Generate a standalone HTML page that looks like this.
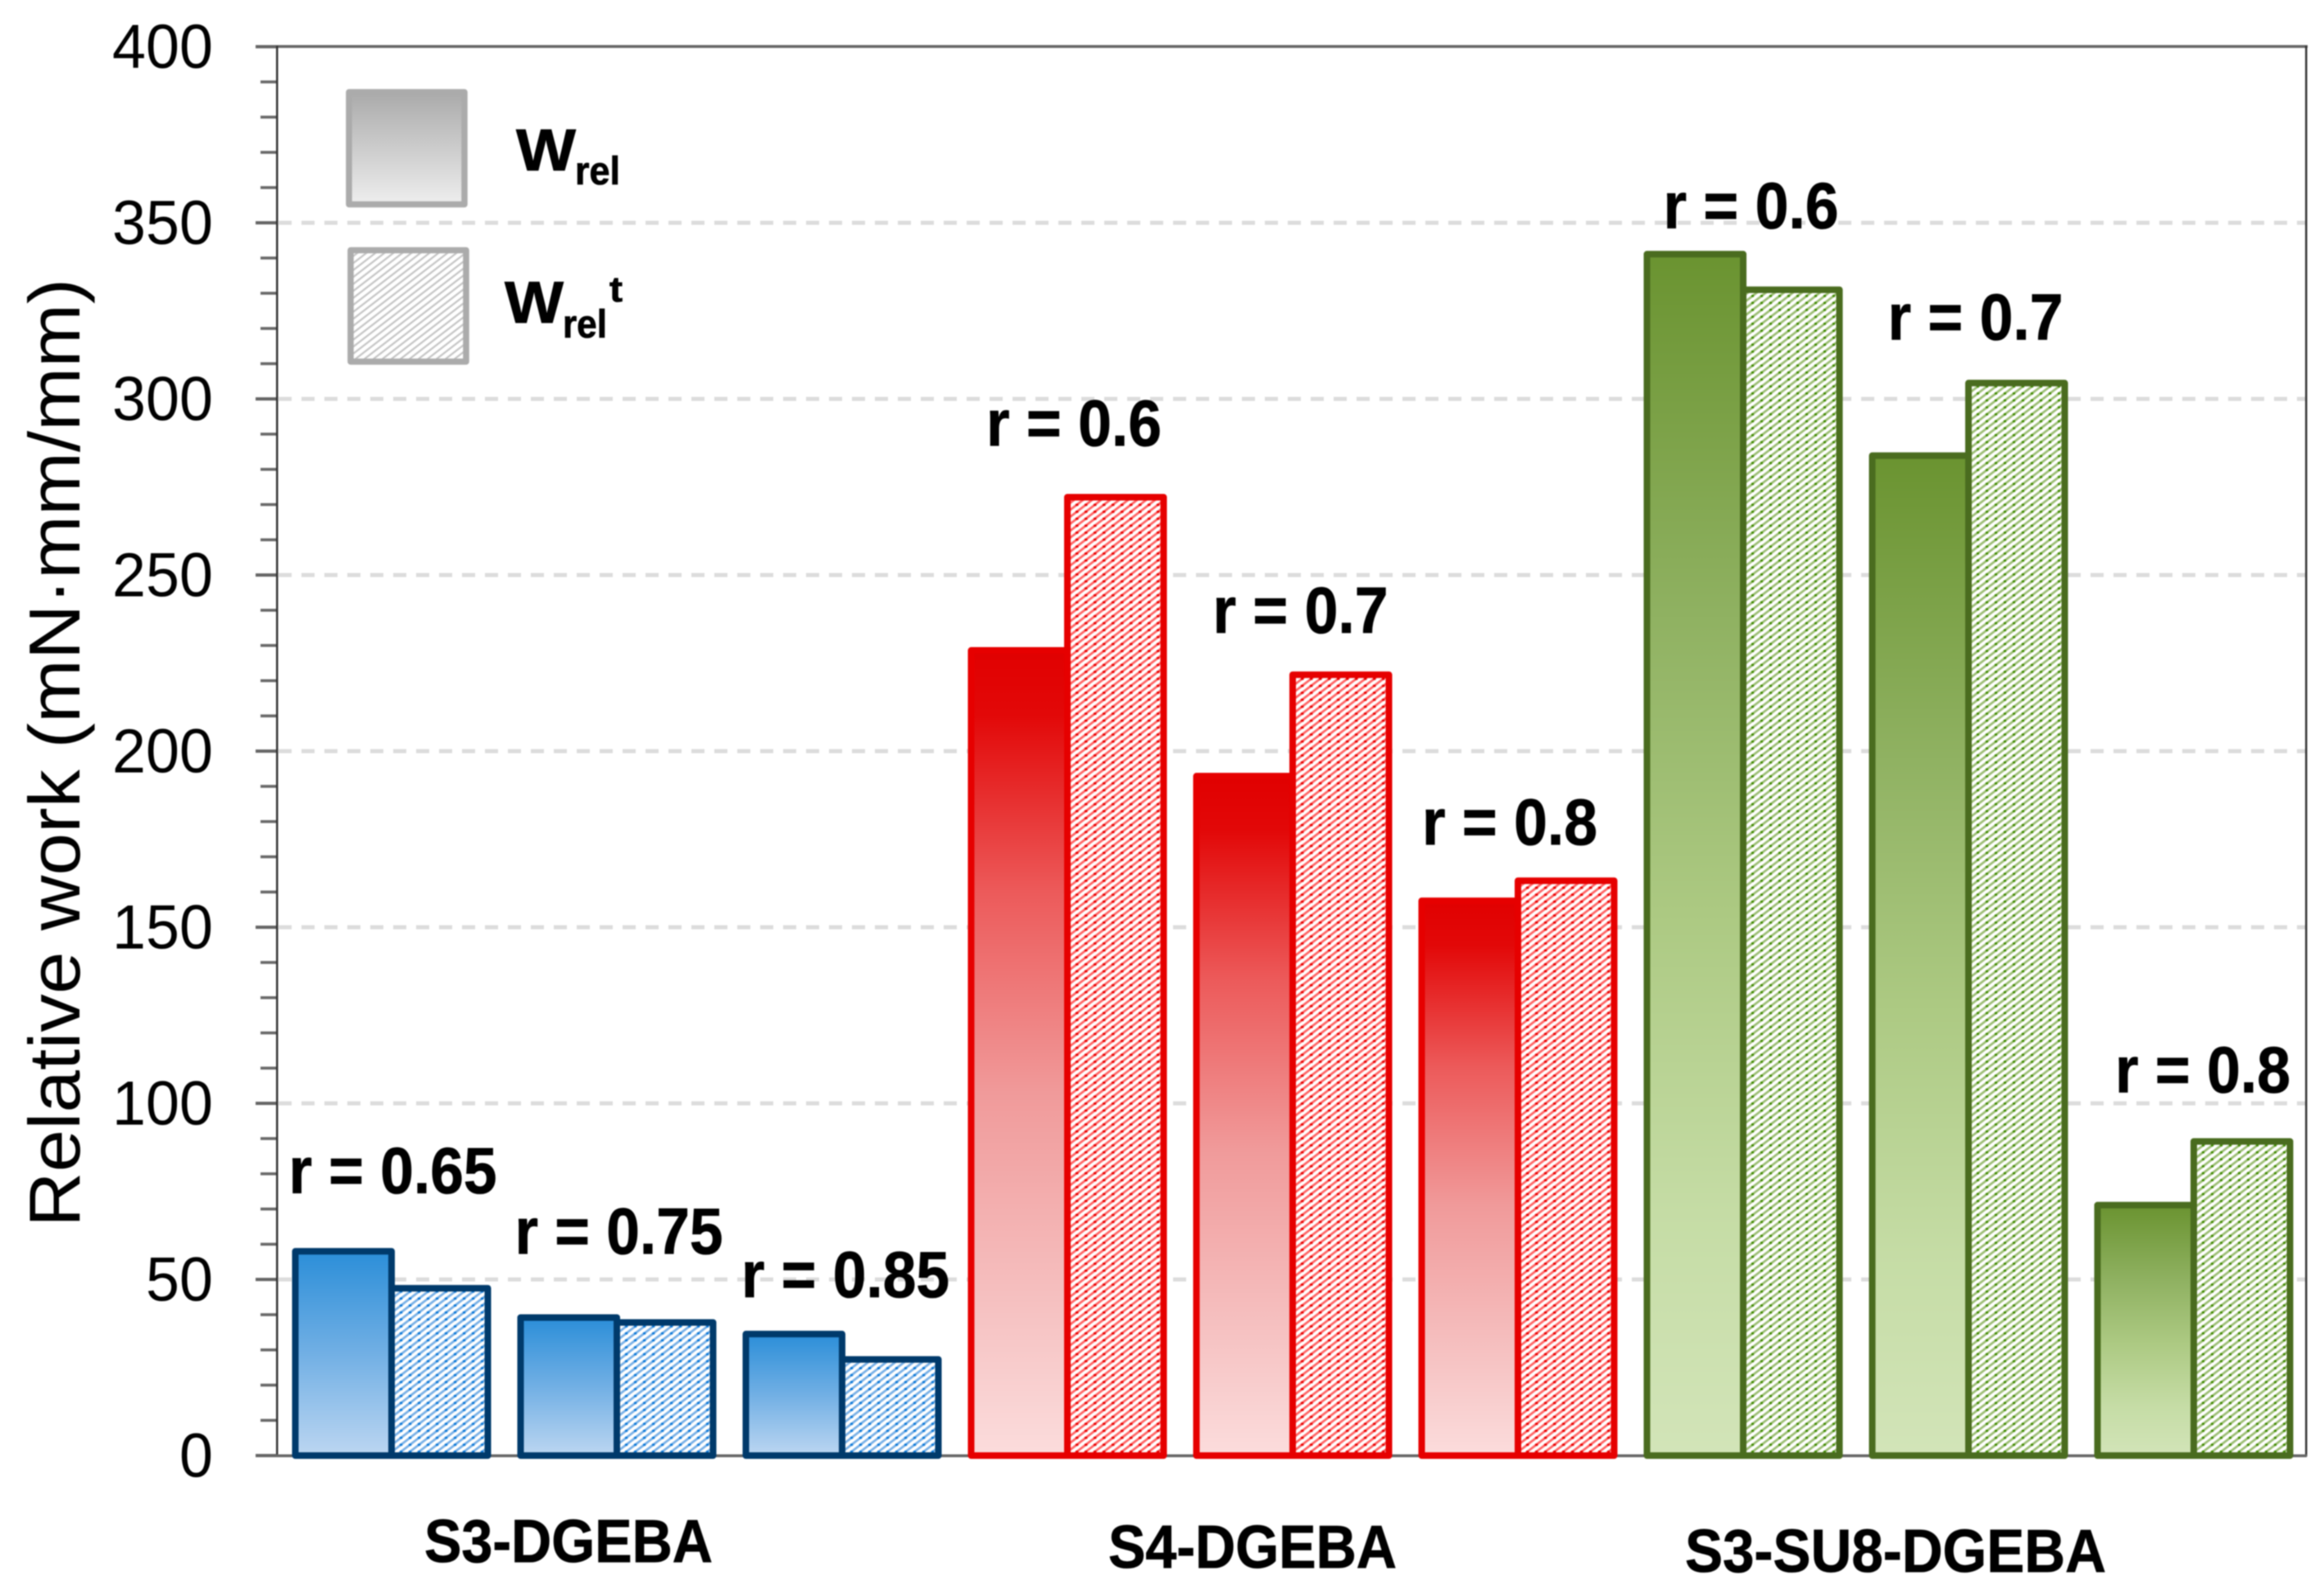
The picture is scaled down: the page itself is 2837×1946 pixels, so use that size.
<!DOCTYPE html>
<html lang="en">
<head>
<meta charset="utf-8">
<title>Relative work chart</title>
<style>
  html, body { margin: 0; padding: 0; background: #fff; }
  svg { display: block; filter: blur(0.7px); }
  text { font-family: "Liberation Sans", sans-serif; fill: #000; }
  .b { font-weight: 700; stroke: #000; stroke-width: 0.8px; }
</style>
</head>
<body>
<svg id="chart" xmlns="http://www.w3.org/2000/svg" width="2837" height="1946" viewBox="0 0 2837 1946">
  <defs>
    <linearGradient id="grad-blue" x1="0" y1="0" x2="0" y2="1">
      <stop offset="0" stop-color="#2b8ed8"/><stop offset="0.5" stop-color="#71afe4"/><stop offset="1" stop-color="#bcd6f1"/>
    </linearGradient>
    <linearGradient id="grad-red" x1="0" y1="0" x2="0" y2="1">
      <stop offset="0" stop-color="#e00000"/><stop offset="0.08" stop-color="#e20808"/><stop offset="0.3" stop-color="#ec5a5a"/><stop offset="0.55" stop-color="#f09a9a"/><stop offset="0.8" stop-color="#f5bfbf"/><stop offset="1" stop-color="#fbdcdc"/>
    </linearGradient>
    <linearGradient id="grad-green" x1="0" y1="0" x2="0" y2="1">
      <stop offset="0" stop-color="#6a9330"/><stop offset="0.3" stop-color="#8fb161"/><stop offset="0.55" stop-color="#acc982"/><stop offset="0.8" stop-color="#c5dca5"/><stop offset="1" stop-color="#d2e4b8"/>
    </linearGradient>
    <linearGradient id="grad-gray" x1="0" y1="0" x2="0" y2="1">
      <stop offset="0" stop-color="#aaaaaa"/><stop offset="1" stop-color="#eeeeee"/>
    </linearGradient>
    <pattern id="hatch-blue" patternUnits="userSpaceOnUse" width="11" height="8.5">
      <rect width="11" height="8.5" fill="#fff"/>
      <path d="M-2.2,10.2 L13.2,-1.7 M-2.2,1.7 L2.2,-1.7 M8.8,10.2 L13.2,6.8" stroke="#78b0e6" stroke-width="2.8" fill="none"/>
      <rect x="4" y="3" width="3.2" height="2.6" fill="#0a78d8"/>
    </pattern>
    <pattern id="hatch-red" patternUnits="userSpaceOnUse" width="11" height="8.5">
      <rect width="11" height="8.5" fill="#fff"/>
      <path d="M-2.2,10.2 L13.2,-1.7 M-2.2,1.7 L2.2,-1.7 M8.8,10.2 L13.2,6.8" stroke="#ff6464" stroke-width="2.8" fill="none"/>
      <rect x="4" y="3" width="3.4" height="2.6" fill="#e60000"/>
    </pattern>
    <pattern id="hatch-green" patternUnits="userSpaceOnUse" width="11" height="8.5">
      <rect width="11" height="8.5" fill="#fff"/>
      <path d="M-2.2,10.2 L13.2,-1.7 M-2.2,1.7 L2.2,-1.7 M8.8,10.2 L13.2,6.8" stroke="#9cbe74" stroke-width="2.8" fill="none"/>
      <rect x="4" y="3" width="3" height="2.6" fill="#3f8a00"/>
    </pattern>
    <pattern id="hatch-gray" patternUnits="userSpaceOnUse" width="11" height="8.5">
      <rect width="11" height="8.5" fill="#fff"/>
      <path d="M-2.2,10.2 L13.2,-1.7 M-2.2,1.7 L2.2,-1.7 M8.8,10.2 L13.2,6.8" stroke="#c4c4c4" stroke-width="2.2" fill="none"/>
    </pattern>
  </defs>

  <g id="grid"></g>
  <g id="y-axis"></g>
  <rect x="312" y="55" width="2505" height="3.5" fill="#666"/>
  <rect x="337" y="56" width="2.5" height="1722" fill="#333"/>
  <rect x="2814" y="56" width="2.5" height="1722" fill="#333"/>
  <rect x="312" y="1775.5" width="2504" height="3.5" fill="#666"/>

  <g id="bars"></g>
  <g id="r-labels"></g>

  <text transform="translate(97,919) rotate(-90)" text-anchor="middle" font-size="88" textLength="1158" lengthAdjust="spacingAndGlyphs">Relative work (mN·mm/mm)</text>

  <text class="b" x="518" y="1907" font-size="74" textLength="352" lengthAdjust="spacingAndGlyphs">S3-DGEBA</text>
  <text class="b" x="1353" y="1914" font-size="74" textLength="352" lengthAdjust="spacingAndGlyphs">S4-DGEBA</text>
  <text class="b" x="2057" y="1919" font-size="74" textLength="514" lengthAdjust="spacingAndGlyphs">S3-SU8-DGEBA</text>

  <g>
    <rect x="426" y="112.5" width="141" height="137" fill="url(#grad-gray)" stroke="#ababab" stroke-width="7.5" stroke-linejoin="round"/>
    <text class="b" x="630" y="208" font-size="72" textLength="73" lengthAdjust="spacingAndGlyphs">W</text>
    <text class="b" x="702" y="225" font-size="48" textLength="55" lengthAdjust="spacingAndGlyphs">rel</text>
    <rect x="428" y="305.5" width="141" height="136" fill="url(#hatch-gray)" stroke="#ababab" stroke-width="7.5" stroke-linejoin="round"/>
    <text class="b" x="616" y="394" font-size="72" textLength="72" lengthAdjust="spacingAndGlyphs">W</text>
    <text class="b" x="687" y="412" font-size="48" textLength="54" lengthAdjust="spacingAndGlyphs">rel</text>
    <text class="b" x="744" y="368" font-size="44" textLength="16" lengthAdjust="spacingAndGlyphs">t</text>
  </g>
</svg>

<script>
const categories = ['S3-DGEBA r=0.65', 'S3-DGEBA r=0.75', 'S3-DGEBA r=0.85', 'S4-DGEBA r=0.6', 'S4-DGEBA r=0.7', 'S4-DGEBA r=0.8', 'S3-SU8-DGEBA r=0.6', 'S3-SU8-DGEBA r=0.7', 'S3-SU8-DGEBA r=0.8'];
const wrelValues = [58, 39.2, 34.5, 228.6, 192.9, 157.5, 341.1, 283.9, 71.1];
const wrelTValues = [47.5, 37.8, 27.3, 272.1, 221.7, 163.2, 331, 304.5, 89.2];
const rLabels = ['r = 0.65', 'r = 0.75', 'r = 0.85', 'r = 0.6', 'r = 0.7', 'r = 0.8', 'r = 0.6', 'r = 0.7', 'r = 0.8'];
const colorGroups = ['blue', 'blue', 'blue', 'red', 'red', 'red', 'green', 'green', 'green'];
const yTickLabels = ['0', '50', '100', '150', '200', '250', '300', '350', '400'];
const minorTickValues = [10, 20, 30, 40, 60, 70, 80, 90, 110, 120, 130, 140, 160, 170, 180, 190, 210, 220, 230, 240, 260, 270, 280, 290, 310, 320, 330, 340, 360, 370, 380, 390];

const SVG_NS = 'http://www.w3.org/2000/svg';
const strokeColors = { blue: '#003a6b', red: '#e60000', green: '#4a6c1f' };

function yScale(v) { return 1777 - v * 4.3; }
function xScale(i) { return 478 + i * 275; }
const halfPair = 117.5;

function make(parent, tag, props) {
  const el = document.createElementNS(SVG_NS, tag);
  for (const k in props) { el.setAttribute(k, props[k]); }
  parent.appendChild(el);
  return el;
}

const gridG = document.getElementById('grid');
const axisG = document.getElementById('y-axis');
const barsG = document.getElementById('bars');
const labelsG = document.getElementById('r-labels');

yTickLabels.forEach(function (label) {
  const v = Number(label);
  const y = yScale(v);
  if (v > 0 && v < 400) {
    const line = make(gridG, 'line', { x1: 340, x2: 2814, y1: y, y2: y, stroke: '#dcdcdc', 'stroke-width': 5, 'stroke-dasharray': '16 12' });
    
    
  }
  const tick = make(axisG, 'line', { x1: 312, x2: 338, y1: y, y2: y, stroke: '#666', 'stroke-width': 4 });
  
  
  const text = make(axisG, 'text', { x: 260, y: y + 26, 'text-anchor': 'end', 'font-size': 76, textLength: label.length * 41, lengthAdjust: 'spacingAndGlyphs' });
  
  
  text.textContent = label;
});

minorTickValues.forEach(function (v) {
  const y = yScale(v);
  const tick = make(axisG, 'line', { x1: 318, x2: 338, y1: y, y2: y, stroke: '#666', 'stroke-width': 3.5 });
  
  
});

categories.forEach(function (cat, i) {
  const color = colorGroups[i];
  const cx = xScale(i);
  const base = yScale(0);
  const solid = make(barsG, 'rect', {
    x: cx - halfPair, y: yScale(wrelValues[i]), width: halfPair, height: base - yScale(wrelValues[i]),
    fill: 'url(#grad-' + color + ')', stroke: strokeColors[color], 'stroke-width': 8, 'stroke-linejoin': 'round'
  });
  
  
  const hatched = make(barsG, 'rect', {
    x: cx, y: yScale(wrelTValues[i]), width: halfPair, height: base - yScale(wrelTValues[i]),
    fill: 'url(#hatch-' + color + ')', stroke: strokeColors[color], 'stroke-width': 8, 'stroke-linejoin': 'round'
  });
  
  
});

function placeRLabel(i, gap, dx) {
  const top = Math.max(wrelValues[i], wrelTValues[i]);
  const t = make(labelsG, 'text', {
    x: xScale(i) + dx, y: yScale(top) - gap, 'text-anchor': 'middle', 'font-size': 80, 'font-weight': 700,
    stroke: '#000', 'stroke-width': 0.8,
    textLength: rLabels[i].length === 8 ? 254 : 214, lengthAdjust: 'spacingAndGlyphs'
  });
  
  
  t.textContent = rLabels[i];
}
placeRLabel(0, 71, 1.5);
placeRLabel(1, 78, 2.5);
placeRLabel(2, 45, 4);
placeRLabel(3, 63, 8);
placeRLabel(4, 51, 9.5);
placeRLabel(5, 44, -10);
placeRLabel(6, 32, 9.5);
placeRLabel(7, 53, 8.5);
placeRLabel(8, 60, 11);
</script>
</body>
</html>
